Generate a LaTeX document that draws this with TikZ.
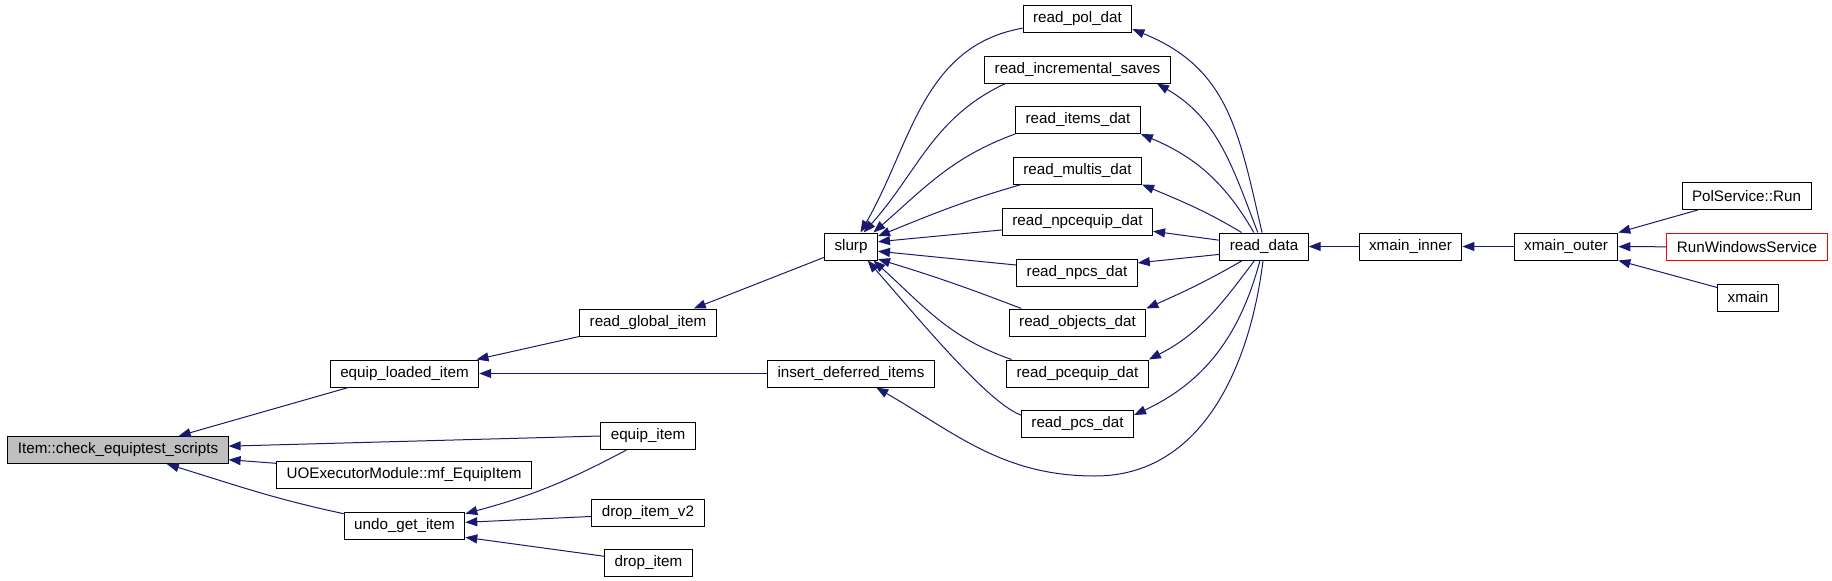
\documentclass[tikz,border=0pt]{standalone}
\usepackage{fontspec}
\setmainfont{Liberation Sans}
\usepackage{xcolor}
\definecolor{CEdge}{HTML}{191970}
\definecolor{CRoot}{HTML}{BFBFBF}
\definecolor{CExt}{HTML}{FF0000}
\usepackage{tikz}
\usetikzlibrary{arrows.meta}
\tikzstyle{fnNode}=[rectangle, draw=black, fill=white, line width=1pt,
  minimum height=27pt, inner xsep=10pt, inner ysep=0pt, font=\fontsize{15.2}{18}\selectfont]
\tikzstyle{rootNode}=[fnNode, fill=CRoot]
\tikzstyle{extNode}=[fnNode, draw=CExt]
\tikzstyle{arr}=[-{Triangle[length=12pt,width=9pt]}, line width=1pt, draw=CEdge]

\begin{document}
\begin{tikzpicture}[x=1pt,y=-1pt]
\useasboundingbox (0,0) rectangle (1832,581);
\node[rootNode] (item) at (118,450) {Item::check\_equiptest\_scripts};
\node[fnNode] (equiploaded) at (404.5,373.5) {equip\_loaded\_item};
\node[fnNode] (uoexec) at (404,474.5) {UOExecutorModule::mf\_EquipItem};
\node[fnNode] (undoget) at (404.5,525.5) {undo\_get\_item};
\node[fnNode] (readglobal) at (648,322.5) {read\_global\_item};
\node[fnNode] (equipitem) at (648,436) {equip\_item};
\node[fnNode] (dropitemvtwo) at (648,512.5) {drop\_item\_v2};
\node[fnNode] (dropitem) at (648.5,562.5) {drop\_item};
\node[fnNode] (insertdeferred) at (851,373.5) {insert\_deferred\_items};
\node[fnNode] (slurp) at (851,246.5) {slurp};
\node[fnNode] (readpol) at (1077.5,18.5) {read\_pol\_dat};
\node[fnNode] (readinc) at (1077.5,69.5) {read\_incremental\_saves};
\node[fnNode] (readitems) at (1078,120) {read\_items\_dat};
\node[fnNode] (readmultis) at (1077.5,170.5) {read\_multis\_dat};
\node[fnNode] (readnpcequip) at (1077.5,222) {read\_npcequip\_dat};
\node[fnNode] (readnpcs) at (1077,272.5) {read\_npcs\_dat};
\node[fnNode] (readobjects) at (1077.5,322.5) {read\_objects\_dat};
\node[fnNode] (readpcequip) at (1077.5,373.5) {read\_pcequip\_dat};
\node[fnNode] (readpcs) at (1077.5,424) {read\_pcs\_dat};
\node[fnNode] (readdata) at (1264,246.5) {read\_data};
\node[fnNode] (xmaininner) at (1410.5,246.5) {xmain\_inner};
\node[fnNode] (xmainouter) at (1566,246.5) {xmain\_outer};
\node[fnNode] (polrun) at (1746.5,196) {PolService::Run};
\node[extNode] (runwinsvc) at (1747,247) {RunWindowsService};
\node[fnNode] (xmain) at (1748,297.5) {xmain};
\coordinate (loopbottom) at (1095,476);

% callers of check_equiptest_scripts
\draw[arr] (equiploaded.194) -- (item.13);
\draw[arr] (equipitem.west) -- (item.2);
\draw[arr] (uoexec.175) -- (item.-5);
\draw[arr] (undoget.169) to[out=168,in=-17] (item.-16);
\draw[arr] (readglobal.south west) -- (equiploaded.11);
\draw[arr] (insertdeferred.west) -- (equiploaded.east);
\draw[arr] (equipitem.213) to[out=-152,in=15] (undoget.11);
\draw[arr] (dropitemvtwo.184) -- (undoget.3);
\draw[arr] (dropitem.172) -- (undoget.-11);
\draw[arr] (slurp.202) -- (readglobal.17);

% readers into slurp
\draw[arr] (readpol.190) to[out=190,in=60] (slurp.56);
\draw[arr] (readinc.191) to[out=205,in=48] (slurp.48);
\draw[arr] (readitems.south west) to[out=200,in=41] (slurp.32);
\draw[arr] (readmultis.194) to[out=196,in=22] (slurp.21);
\draw[arr] (readnpcequip.186) -- (slurp.10);
\draw[arr] (readnpcs.173) -- (slurp.-10);
\draw[arr] (readobjects.166) to[out=159,in=-17] (slurp.-25);
\draw[arr] (readpcequip.168) to[out=161,in=-42] (slurp.-32);
\draw[arr] (readpcs.171) to[out=160,in=-49,out looseness=0.4] (slurp.-40);

% read_data fan-out
\draw[arr] (readdata.98) to[out=103,in=-22,looseness=1.1] (readpol.-11);
\draw[arr] (readdata.114) to[out=111,in=-30] (readinc.-10);
\draw[arr] (readdata.126) to[out=120,in=-23] (readitems.south east);
\draw[arr] (readdata.148) to[out=149,in=-23] (readmultis.south east);
\draw[arr] (readdata.172) -- (readnpcequip.-7);
\draw[arr] (readdata.190) -- (readnpcs.9);
\draw[arr] (readdata.-147) to[out=-150,in=24] (readobjects.north east);
\draw[arr] (readdata.-124) to[out=-127,in=27] (readpcequip.north east);
\draw[arr] (readdata.-106) to[out=-105,in=25] (readpcs.9);
\draw[arr] (readdata.-94) to[out=-97,in=0] (loopbottom) to[out=180,in=-30] (insertdeferred.-29);

% main chain
\draw[arr] (xmaininner) -- (readdata);
\draw[arr] (xmainouter) -- (xmaininner);
\draw[arr] (polrun.196) -- (xmainouter.north east);
\draw[arr] (runwinsvc) -- (xmainouter);
\draw[arr] (xmain.162) -- (xmainouter.south east);
\end{tikzpicture}
\end{document}
